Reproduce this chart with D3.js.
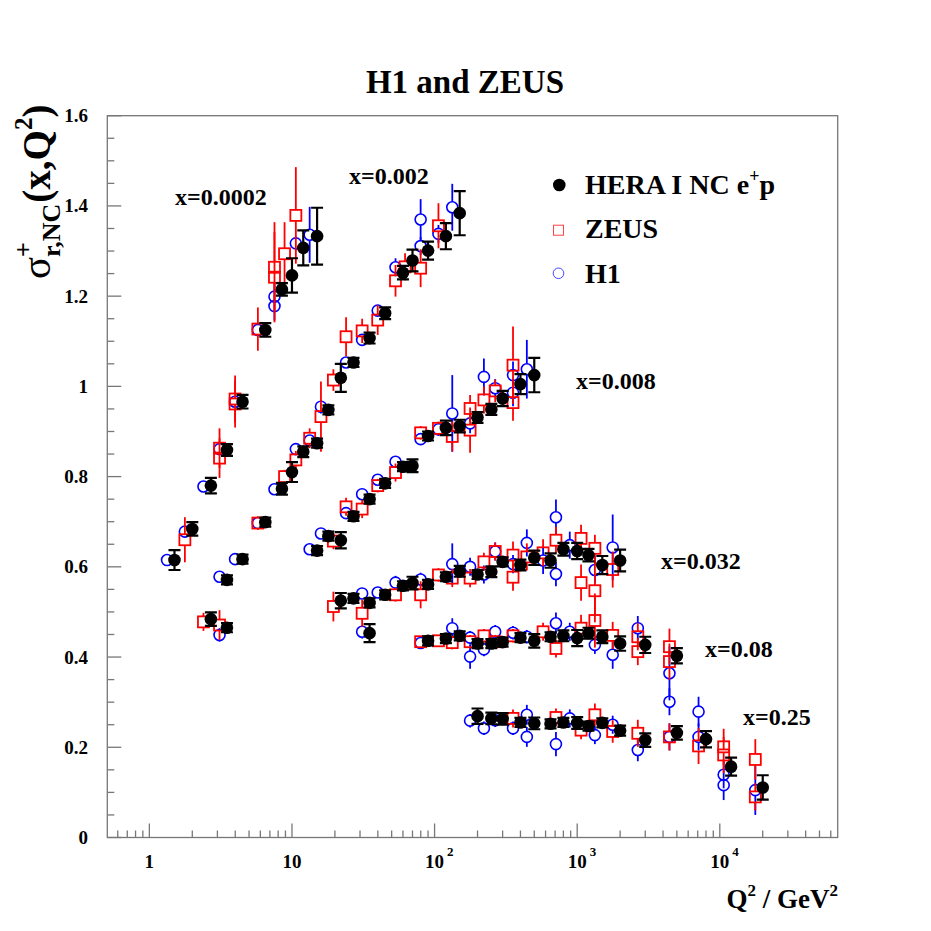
<!DOCTYPE html>
<meta charset="utf-8">
<style>
  body { margin: 0; background: white; }
  text { font-family: 'Liberation Serif', 'Times New Roman', serif; font-weight: bold; fill: black; }
  .frame { fill: none; stroke: #777; stroke-width: 1.3; }
  .tick { stroke: #777; stroke-width: 1.3; }
</style>
<body>
<script src="https://d3js.org/d3.v7.min.js"></script>
<script>

// x bins shown in the plot
var binLabels = ["x=0.0002", "x=0.002", "x=0.008", "x=0.032", "x=0.08", "x=0.25"];

// HERA I combined NC e+p, points are [Q2, sigma_r, error]
var heraX0002 = [[1.5,0.615,0.022],[2,0.684,0.015],[2.7,0.780,0.017],[3.5,0.859,0.013],[4.5,0.966,0.015],[6.5,1.125,0.015],[8.5,1.215,0.014],[10,1.246,0.038],[12,1.307,0.039],[15,1.333,0.063]];
var heraX002 = [[3.5,0.571,0.010],[4.5,0.617,0.010],[6.5,0.699,0.010],[8.5,0.773,0.013],[10,0.810,0.022],[12,0.855,0.012],[15,0.874,0.010],[18,0.948,0.010],[22,1.019,0.031],[27,1.053,0.010],[35,1.107,0.012],[45,1.162,0.013],[60,1.252,0.015],[70,1.279,0.024],[90,1.301,0.020],[120,1.333,0.029],[150,1.384,0.049]];
var heraX008 = [[2.7,0.484,0.015],[3.5,0.465,0.010],[15,0.636,0.010],[18,0.668,0.010],[22,0.659,0.018],[27,0.712,0.010],[35,0.750,0.010],[45,0.785,0.010],[60,0.822,0.010],[70,0.824,0.014],[90,0.890,0.010],[120,0.908,0.016],[150,0.912,0.014],[200,0.931,0.012],[250,0.949,0.012],[300,0.973,0.017],[400,1.005,0.022],[500,1.025,0.038]];
var heraX032 = [[22,0.525,0.017],[27,0.530,0.010],[35,0.520,0.010],[45,0.538,0.010],[60,0.558,0.010],[70,0.564,0.014],[90,0.561,0.010],[120,0.578,0.010],[150,0.590,0.012],[200,0.583,0.010],[250,0.589,0.012],[300,0.611,0.010],[400,0.604,0.012],[500,0.620,0.016],[650,0.614,0.016],[800,0.639,0.014],[1000,0.635,0.018],[1200,0.626,0.014],[1500,0.604,0.020],[2000,0.614,0.024]];
var heraX08 = [[35,0.453,0.020],[90,0.436,0.010],[120,0.441,0.010],[150,0.447,0.010],[200,0.430,0.010],[250,0.430,0.010],[300,0.433,0.010],[400,0.443,0.010],[500,0.436,0.015],[650,0.445,0.010],[800,0.447,0.012],[1000,0.442,0.018],[1200,0.453,0.012],[1500,0.445,0.014],[2000,0.430,0.016],[3000,0.427,0.018],[5000,0.403,0.017]];
var heraX25 = [[200,0.269,0.017],[250,0.264,0.013],[300,0.263,0.013],[400,0.255,0.010],[500,0.253,0.013],[650,0.252,0.010],[800,0.255,0.010],[1000,0.254,0.013],[1200,0.247,0.010],[1500,0.254,0.010],[2000,0.237,0.011],[3000,0.216,0.015],[5000,0.232,0.015],[8000,0.218,0.018],[12000,0.157,0.020],[20000,0.111,0.027]];

// ZEUS
var zeusX0002 = [[2,0.660,0.050],[3.5,0.863,0.044],[3.5,0.841,0.044],[4.5,0.972,0.052],[4.5,0.961,0.052],[6.5,1.127,0.048],[8.5,1.264,0.100],[8.5,1.242,0.100],[10,1.294,0.070],[12,1.379,0.107]];
var zeusX002 = [[6.5,0.697,0.015],[10,0.800,0.015],[12,0.837,0.020],[15,0.885,0.022],[18,0.933,0.078],[22,1.014,0.024],[27,1.110,0.043],[35,1.123,0.027],[45,1.147,0.033],[60,1.234,0.035],[70,1.265,0.030],[90,1.262,0.042],[120,1.356,0.050]];
var zeusX008 = [[2.7,0.478,0.020],[3.5,0.471,0.033],[22,0.657,0.018],[27,0.733,0.020],[35,0.728,0.020],[45,0.780,0.015],[60,0.809,0.020],[90,0.897,0.015],[120,0.907,0.015],[150,0.889,0.033],[200,0.903,0.050],[200,0.951,0.030],[250,0.970,0.030],[300,0.990,0.025],[400,0.964,0.040],[400,1.047,0.086]];
var zeusX032 = [[22,0.512,0.033],[35,0.497,0.030],[60,0.538,0.015],[90,0.538,0.030],[120,0.582,0.015],[150,0.575,0.020],[200,0.575,0.020],[250,0.611,0.020],[300,0.634,0.020],[400,0.577,0.030],[400,0.626,0.030],[500,0.622,0.030],[650,0.631,0.030],[800,0.659,0.030],[1200,0.663,0.030],[1200,0.565,0.040],[1500,0.641,0.030],[1500,0.547,0.070],[2000,0.594,0.040]];
var zeusX08 = [[90,0.434,0.012],[120,0.436,0.012],[150,0.432,0.015],[200,0.434,0.015],[250,0.447,0.015],[300,0.434,0.015],[400,0.447,0.015],[650,0.456,0.020],[800,0.419,0.020],[1200,0.464,0.030],[1500,0.481,0.060],[2000,0.448,0.030],[3000,0.445,0.030],[3000,0.412,0.030],[5000,0.423,0.040],[5000,0.390,0.040]];
var zeusX25 = [[400,0.264,0.020],[800,0.266,0.020],[1200,0.238,0.020],[1500,0.272,0.025],[2000,0.235,0.025],[3000,0.231,0.030],[5000,0.223,0.030],[8000,0.203,0.040],[12000,0.201,0.040],[12000,0.183,0.040],[20000,0.173,0.045],[20000,0.090,0.030]];

// H1
var h1X0002 = [[1.5,0.615,0.010],[2,0.678,0.010],[2.7,0.778,0.010],[3.5,0.861,0.010],[4.5,0.966,0.010],[6.5,1.125,0.012],[8.5,1.199,0.032],[8.5,1.178,0.032],[12,1.317,0.015],[15,1.336,0.062]];
var h1X002 = [[3.5,0.578,0.010],[4.5,0.617,0.010],[6.5,0.697,0.010],[8.5,0.772,0.010],[12,0.861,0.010],[15,0.880,0.010],[18,0.955,0.015],[27,1.053,0.010],[35,1.103,0.012],[45,1.168,0.012],[60,1.264,0.020],[90,1.370,0.045],[90,1.311,0.020],[120,1.338,0.020],[150,1.397,0.052]];
var h1X008 = [[3.5,0.449,0.015],[15,0.639,0.010],[18,0.674,0.010],[27,0.719,0.010],[35,0.761,0.010],[45,0.793,0.010],[60,0.833,0.010],[90,0.883,0.012],[120,0.905,0.015],[150,0.940,0.085],[200,0.918,0.022],[250,1.021,0.041],[300,0.996,0.020],[400,1.025,0.030],[400,0.986,0.030],[500,1.038,0.065]];
var h1X032 = [[35,0.541,0.012],[45,0.543,0.012],[60,0.565,0.015],[90,0.572,0.015],[150,0.606,0.046],[200,0.600,0.020],[250,0.583,0.020],[300,0.634,0.020],[400,0.606,0.020],[500,0.653,0.030],[650,0.614,0.030],[800,0.710,0.039],[800,0.584,0.027],[1000,0.648,0.030],[1500,0.593,0.030],[2000,0.643,0.073]];
var h1X08 = [[35,0.456,0.015],[90,0.431,0.010],[150,0.464,0.022],[200,0.443,0.015],[200,0.401,0.027],[250,0.417,0.015],[300,0.456,0.015],[400,0.454,0.015],[500,0.445,0.015],[800,0.475,0.024],[1000,0.456,0.020],[1500,0.427,0.020],[2000,0.405,0.031],[3000,0.464,0.027],[5000,0.364,0.060],[5000,0.301,0.030]];
var h1X25 = [[200,0.259,0.015],[250,0.242,0.015],[300,0.260,0.015],[400,0.242,0.015],[500,0.272,0.022],[500,0.223,0.022],[800,0.207,0.027],[1000,0.264,0.020],[1500,0.227,0.020],[2000,0.250,0.020],[3000,0.194,0.025],[5000,0.223,0.030],[8000,0.279,0.033],[8000,0.223,0.030],[12000,0.139,0.030],[12000,0.116,0.033],[20000,0.105,0.055]];

var legendNames = ["HERA I NC e", "ZEUS", "H1"];

var hera = d3.merge([heraX0002, heraX002, heraX008, heraX032, heraX08, heraX25]);
var zeus = d3.merge([zeusX0002, zeusX002, zeusX008, zeusX032, zeusX08, zeusX25]);
var h1 = d3.merge([h1X0002, h1X002, h1X008, h1X032, h1X08, h1X25]);

// ZEUS and H1 are drawn a little to the left of the combined points
var shift = 0.887;

var svg = d3.select("body").append("svg")
    .attr("width", 931)
    .attr("height", 931);

var x = d3.scaleLog().domain([0.507, 67100]).range([107.3, 837.7]);
var y = d3.scaleLinear().domain([0, 1.6]).range([837.5, 115.7]);

// frame
svg.append("rect").attr("class", "frame")
    .attr("x", x.range()[0]).attr("y", y.range()[1])
    .attr("width", x.range()[1] - x.range()[0])
    .attr("height", y.range()[0] - y.range()[1]);

// x ticks, inward
var isDecade = function(v) { return Math.abs(Math.log10(v) - Math.round(Math.log10(v))) < 1e-6; };
svg.selectAll(".xtick")
    .data(x.ticks())
  .enter().append("line")
    .attr("class", "tick")
    .attr("x1", function(d) { return x(d); })
    .attr("x2", function(d) { return x(d); })
    .attr("y1", y(0))
    .attr("y2", function(d) { return y(0) - (isDecade(d) ? 14 : 7); });

var xlab = svg.selectAll(".xlab")
    .data(x.ticks().filter(isDecade))
  .enter().append("text")
    .attr("class", "xlab")
    .attr("y", 868)
    .style("font-size", "19px");
xlab.each(function(d) {
  var t = d3.select(this);
  var p = Math.round(Math.log10(d));
  if (p < 2) {
    t.attr("x", x(d)).attr("text-anchor", "middle").text(d);
  } else {
    t.attr("x", x(d) - 9.5);
    t.append("tspan").text("10");
    t.append("tspan").attr("dx", 3).attr("dy", -12).style("font-size", "13px").text(p);
  }
});

// y ticks, inward
var yt = d3.range(0, 1.6001, 0.05);
svg.selectAll(".ytick")
    .data(yt)
  .enter().append("line")
    .attr("class", "tick")
    .attr("x1", x.range()[0])
    .attr("x2", function(d, i) { return x.range()[0] + (i % 4 === 0 ? 14 : 7); })
    .attr("y1", function(d) { return y(d); })
    .attr("y2", function(d) { return y(d); });

svg.selectAll(".ylab")
    .data(d3.range(0, 1.6001, 0.2))
  .enter().append("text")
    .attr("x", 88)
    .attr("y", function(d) { return y(d) + 6.5; })
    .attr("text-anchor", "end")
    .style("font-size", "19px")
    .text(function(d, i) { return i === 0 ? "0" : d3.format(".1f")(d).replace(/\.0$/, ""); });

// error bars for open markers, broken around the marker
function openErrors(g, data, color, gap) {
  g.selectAll(".eu").data(data).enter().append("line")
      .attr("x1", function(d) { return x(d[0] * shift); })
      .attr("x2", function(d) { return x(d[0] * shift); })
      .attr("y1", function(d) { return y(d[1] + d[2]); })
      .attr("y2", function(d) { return Math.max(y(d[1] + d[2]), y(d[1]) - gap); })
      .attr("stroke", color).attr("stroke-width", 1.8);
  g.selectAll(".ed").data(data).enter().append("line")
      .attr("x1", function(d) { return x(d[0] * shift); })
      .attr("x2", function(d) { return x(d[0] * shift); })
      .attr("y1", function(d) { return y(d[1] - d[2]); })
      .attr("y2", function(d) { return Math.min(y(d[1] - d[2]), y(d[1]) + gap); })
      .attr("stroke", color).attr("stroke-width", 1.8);
}

// H1
var gH1 = svg.append("g");
openErrors(gH1, h1, "#0000ff", 5.5);
gH1.selectAll("circle").data(h1).enter().append("circle")
    .attr("cx", function(d) { return x(d[0] * shift); })
    .attr("cy", function(d) { return y(d[1]); })
    .attr("r", 5.5)
    .attr("fill", "none").attr("stroke", "#0000ff").attr("stroke-width", 1.6);

// ZEUS
var gZ = svg.append("g");
openErrors(gZ, zeus, "#ff0000", 5.5);
gZ.selectAll("rect").data(zeus).enter().append("rect")
    .attr("x", function(d) { return x(d[0] * shift) - 5.5; })
    .attr("y", function(d) { return y(d[1]) - 5.5; })
    .attr("width", 11).attr("height", 11)
    .attr("fill", "none").attr("stroke", "#ff0000").attr("stroke-width", 1.8);

// HERA combined
var gH = svg.append("g");
gH.selectAll(".eb").data(hera).enter().append("path")
    .attr("d", function(d) {
      var cx = x(d[0]), y1 = y(d[1] + d[2]), y2 = y(d[1] - d[2]);
      return "M" + cx + "," + y1 + "V" + y2 +
             "M" + (cx - 6) + "," + y1 + "H" + (cx + 6) +
             "M" + (cx - 6) + "," + y2 + "H" + (cx + 6);
    })
    .attr("stroke", "black").attr("stroke-width", 2.2).attr("fill", "none");
gH.selectAll("circle").data(hera).enter().append("circle")
    .attr("cx", function(d) { return x(d[0]); })
    .attr("cy", function(d) { return y(d[1]); })
    .attr("r", 6.3)
    .attr("fill", "black");

// bin labels
var labelPos = [[175, 205], [349, 183.5], [576, 389], [661, 569], [705, 657], [743, 724.5]];
svg.selectAll(".bin")
    .data(binLabels)
  .enter().append("text")
    .attr("x", function(d, i) { return labelPos[i][0]; })
    .attr("y", function(d, i) { return labelPos[i][1]; })
    .style("font-size", "24px")
    .text(function(d) { return d; });

// legend
svg.append("circle").attr("cx", 559.3).attr("cy", 185).attr("r", 6.3).attr("fill", "black");
svg.append("rect").attr("x", 553.5).attr("y", 225.2).attr("width", 10).attr("height", 10)
    .attr("fill", "none").attr("stroke", "#ff4444").attr("stroke-width", 1);
svg.append("circle").attr("cx", 558.5).attr("cy", 273.3).attr("r", 5.3)
    .attr("fill", "none").attr("stroke", "#4444ff").attr("stroke-width", 1);
var lg = svg.append("text").attr("x", 585).attr("y", 194).style("font-size", "28px");
lg.append("tspan").text(legendNames[0]);
lg.append("tspan").attr("dy", -12).style("font-size", "18px").text("+");
lg.append("tspan").attr("dy", 12).text("p");
svg.append("text").attr("x", 585).attr("y", 238).style("font-size", "28px").text(legendNames[1]);
svg.append("text").attr("x", 585).attr("y", 283).style("font-size", "28px").text(legendNames[2]);

// title
svg.append("text").attr("x", 465).attr("y", 93).attr("text-anchor", "middle")
    .style("font-size", "33px").text("H1 and ZEUS");

// x axis title
var xt = svg.append("text").attr("x", 838).attr("y", 908).attr("text-anchor", "end").style("font-size", "27px");
xt.append("tspan").text("Q");
xt.append("tspan").attr("dy", -12).style("font-size", "17px").text("2");
xt.append("tspan").attr("dy", 12).text(" / GeV");
xt.append("tspan").attr("dy", -12).style("font-size", "17px").text("2");

// y axis title, pieces laid out along the rotated baseline
var yg = svg.append("g").attr("transform", "translate(50,279) rotate(-90)");
var pos = 0;
function piece(txt, size, dy, weight, advance) {
  var t = yg.append("text").attr("x", pos).attr("y", dy)
      .style("font-size", size + "px").style("font-weight", weight).text(txt);
  var w = t.node().getComputedTextLength();
  if (advance) pos += w;
  return w;
}
piece("\u03c3", 41, 0, "normal", true);
var wp = piece("+", 26, -18, "bold", false);
var ws = piece("r,NC", 26, 10, "bold", false);
pos += Math.max(wp, ws) + 1;
piece("(x,Q", 39, 0, "bold", true);
piece("2", 25, -18, "bold", true);
piece(")", 39, 0, "bold", true);

</script>
</body>
